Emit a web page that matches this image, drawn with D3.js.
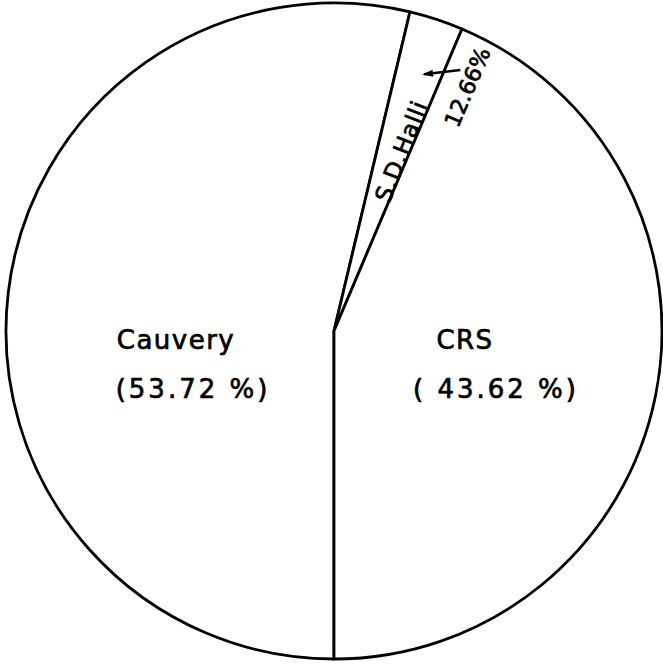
<!DOCTYPE html>
<html>
<head>
	<meta charset="utf-8">
	<script src="https://cdnjs.cloudflare.com/ajax/libs/d3/7.8.5/d3.min.js"></script>
	<style>
		body { margin: 0; background: #fff; }
		text { font-family: "DejaVu Sans", sans-serif; fill: #000; stroke: #000; stroke-width: 0.7px; }
	</style>
</head>
<body>
	<svg width="663" height="664" id="chart"></svg>

	<script>
	//chart data
	var categories = ["Cauvery", "S.D.Halli", "CRS"];
	var shares = [53.72, 2.66, 43.62];
	var shareLabels = ["(53.72 %)", "12.66%", "( 43.62 %)"];

	var svg = d3.select("svg"),
		cx = 334, cy = 331, radius = 328;

	var g = svg.append("g").attr("transform", "translate(" + cx + "," + cy + ")");

	//pie starts at the bottom and runs clockwise
	var pie = d3.pie()
		.sort(null)
		.startAngle(Math.PI)
		.endAngle(3 * Math.PI)
		.value(function(d) { return d; });

	var arc = d3.arc().innerRadius(0).outerRadius(radius);

	var slices = pie(shares);

	g.selectAll("path.slice")
		.data(slices)
		.enter().append("path")
		.attr("class", "slice")
		.attr("d", arc)
		.attr("fill", "#fff")
		.attr("stroke", "#000")
		.attr("stroke-width", 2.8)
		.attr("stroke-linejoin", "round");

	//point on the pie at angle a (radians, clockwise from top) and radius r
	function polar(a, r) { return [r * Math.sin(a), -r * Math.cos(a)]; }

	//big slices: name and share, horizontal
	var bigLabels = [
		{i: 0, nameDx: -158, pctDx: -141},
		{i: 2, nameDx: 131, pctDx: 162}
	];
	bigLabels.forEach(function(b) {
		g.append("text")
			.attr("x", b.nameDx)
			.attr("y", 18)
			.attr("text-anchor", "middle")
			.style("font-size", "26px")
			.style("letter-spacing", "1.5px")
			.text(categories[b.i]);
		g.append("text")
			.attr("x", b.pctDx)
			.attr("y", 67)
			.attr("text-anchor", "middle")
			.style("font-size", "26px")
			.style("letter-spacing", "3px")
			.text(shareLabels[b.i]);
	});

	//thin slice: rotated name inside, share outside the line with a pointer
	var s = slices[1];
	var mid = (s.startAngle + s.endAngle) / 2;
	var rot = mid * 180 / Math.PI - 90;
	var p = polar(mid + 0.04, 192);
	g.append("text")
		.attr("transform", "translate(" + p[0] + "," + p[1] + ") rotate(" + (rot + 3) + ")")
		.attr("text-anchor", "middle")
		.attr("dy", "0.35em")
		.style("font-size", "23px")
		.style("letter-spacing", "1px")
		.text(categories[1]);

	var q = polar(s.endAngle + 0.1, 278);
	g.append("text")
		.attr("transform", "translate(" + q[0] + "," + q[1] + ") rotate(" + (rot + 5) + ")")
		.attr("text-anchor", "middle")
		.attr("dy", "0.35em")
		.style("font-size", "22px")
		.text(shareLabels[1]);

	var a0 = polar(mid + 0.02, 272), a1 = polar(s.endAngle + 0.05, 290);
	g.append("line")
		.attr("x1", a1[0]).attr("y1", a1[1])
		.attr("x2", a0[0]).attr("y2", a0[1])
		.attr("stroke", "#000")
		.attr("stroke-width", 2.5);
	g.append("path")
		.attr("transform", "translate(" + a0[0] + "," + a0[1] + ") rotate(" + (Math.atan2(a0[1] - a1[1], a0[0] - a1[0]) * 180 / Math.PI) + ")")
		.attr("d", "M2,0 L-9,-3.5 L-9,3.5 Z")
		.attr("fill", "#000");
	</script>
</body>
</html>
